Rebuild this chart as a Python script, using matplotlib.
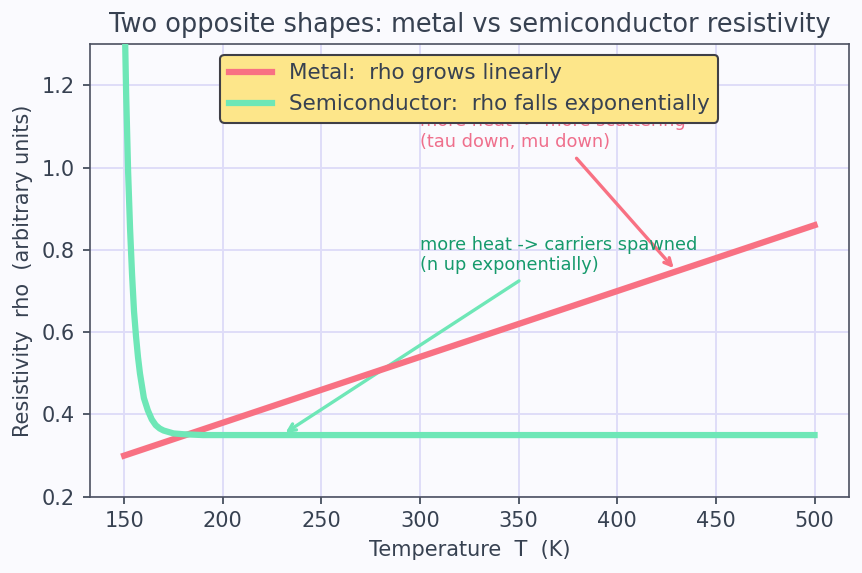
import numpy as np
import matplotlib
matplotlib.use("Agg")
import matplotlib.pyplot as plt

# ---------------------------------------- #
#            Data           #
# ---------------------------------------- #
metal_T = [150, 200, 250, 300, 350, 400, 450, 500]
metal_rho = [0.30, 0.38, 0.46, 0.54, 0.62, 0.70, 0.78, 0.86]

semi_T = [150, 151, 152, 153, 154, 155, 156, 157, 158, 160, 162, 164, 166,
          168, 170, 175, 180, 190, 200, 250, 300, 350, 400, 450, 500]
semi_rho = [1.43, 1.18, 0.99, 0.85, 0.74, 0.65, 0.59, 0.54, 0.50, 0.44, 0.41,
            0.388, 0.374, 0.366, 0.361, 0.354, 0.352, 0.350, 0.350, 0.350,
            0.350, 0.350, 0.350, 0.350, 0.350]

metal_note = "more heat -> more scattering\n(tau down, mu down)"
metal_note_xy = (430, 0.748)
metal_note_text = (300, 1.05)
semi_note = "more heat -> carriers spawned\n(n up exponentially)"
semi_note_xy = (230, 0.35)
semi_note_text = (300, 0.75)

METAL_C = "#f87183"
SEMI_C = "#6ee7b7"
INK = "#374151"
BG = "#fafafe"
DPI = 150

plt.rcParams['font.family'] = ['DejaVu Sans']
plt.rcParams['text.color'] = INK
plt.rcParams['axes.labelcolor'] = INK
plt.rcParams['xtick.color'] = INK
plt.rcParams['ytick.color'] = INK

fig, ax = plt.subplots(figsize=(862 / DPI, 573 / DPI), dpi=DPI)
fig.patch.set_facecolor(BG)
ax.set_facecolor(BG)
fig.subplots_adjust(left=0.104, right=0.985, top=0.923, bottom=0.133)

ax.plot(metal_T, metal_rho, color=METAL_C, lw=3, label="Metal:  rho grows linearly", zorder=3)
ax.plot(semi_T, semi_rho, color=SEMI_C, lw=3, label="Semiconductor:  rho falls exponentially", zorder=3)

ax.set_ylim(0.2, 1.3)
ax.grid(True, color="#dedcf8", lw=0.9)
ax.set_axisbelow(True)
for sp in ax.spines.values():
    sp.set_color("#4b5060")

ax.annotate(metal_note, xy=metal_note_xy, xytext=metal_note_text,
            color="#ef6f8c", fontsize=8.5,
            arrowprops=dict(arrowstyle="->", color=METAL_C, lw=1.6), zorder=2)
ax.annotate(semi_note, xy=semi_note_xy, xytext=semi_note_text,
            color="#169a6c", fontsize=8.5,
            arrowprops=dict(arrowstyle="->", color=SEMI_C, lw=1.6), zorder=2)

ax.set_title("Two opposite shapes: metal vs semiconductor resistivity", fontsize=12.3, color=INK)
ax.set_xlabel("Temperature  T  (K)")
ax.set_ylabel("Resistivity  rho  (arbitrary units)")

leg = ax.legend(loc="upper center", facecolor="#fde68a", edgecolor="#3f3f46",
                framealpha=1, fontsize=10.3)
leg.set_zorder(5)
leg.get_frame().set_linewidth(1.0)

fig.savefig("out.png", dpi=DPI, facecolor=BG)
